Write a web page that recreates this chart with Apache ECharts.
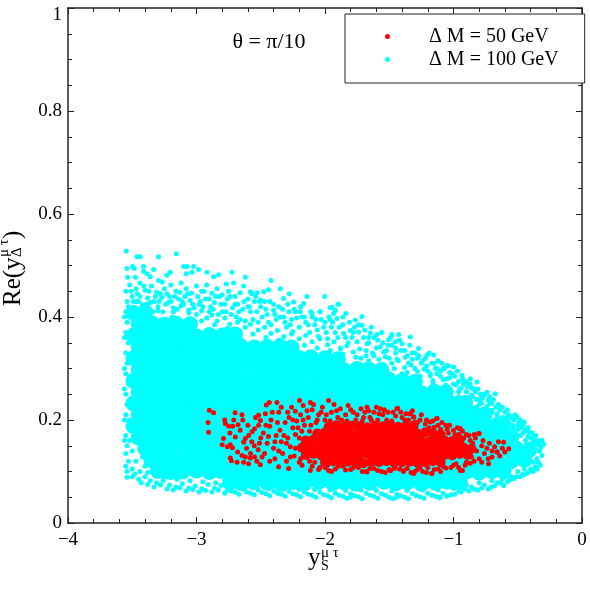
<!DOCTYPE html>
<html>
<head>
<meta charset="utf-8">
<script src="https://cdn.jsdelivr.net/npm/echarts@6/dist/echarts.min.js"></script>
<style>
html, body { margin: 0; padding: 0; background: #fff; }
#chart { width: 590px; height: 590px; }
</style>
</head>
<body>
<div id="chart"></div>
<script>
// names of the two point sets
var nameRed = 'Δ M = 50 GeV';
var nameCyan = 'Δ M = 100 GeV';

// Delta M = 100 GeV, solid middle of the cloud
var cyanCore = [
  [-2.74,0.079],[-2.65,0.077],[-2.56,0.08],[-2.45,0.078],[-2.34,0.076],[-2.25,0.079],[-2.16,0.077],[-2.05,0.08],[-1.94,0.077],[-1.85,0.079],[-1.76,0.076],[-1.65,0.078],[-1.54,0.08],[-1.45,0.077],[-1.36,0.079],[-1.25,0.076],[-1.14,0.078],[-1.05,0.08],[-0.95,0.079],
  [-3.3,0.101],[-3.2,0.099],[-3.11,0.1],[-3.0,0.102],[-2.9,0.099],[-2.81,0.101],[-2.7,0.1],[-2.6,0.098],[-2.5,0.101],[-2.41,0.1],[-2.3,0.099],[-2.2,0.102],[-2.1,0.1],[-2.01,0.098],[-1.9,0.101],[-1.8,0.1],[-1.7,0.099],[-1.61,0.102],[-1.5,0.1],[-1.4,0.098],[-1.3,0.101],[-1.2,0.1],[-1.11,0.099],[-1.0,0.101],[-0.9,0.1],[-0.8,0.098],[-0.7,0.101],[-0.61,0.1],
  [-3.35,0.122],[-3.25,0.124],[-3.15,0.121],[-3.06,0.123],[-2.95,0.122],[-2.85,0.12],[-2.75,0.123],[-2.66,0.122],[-2.55,0.124],[-2.45,0.121],[-2.35,0.122],[-2.26,0.123],[-2.15,0.121],[-2.05,0.122],[-1.95,0.124],[-1.85,0.122],[-1.76,0.12],[-1.65,0.123],[-1.55,0.122],[-1.45,0.121],[-1.35,0.124],[-1.25,0.122],[-1.16,0.12],[-1.05,0.123],[-0.95,0.122],[-0.85,0.121],[-0.75,0.124],[-0.66,0.122],[-0.55,0.12],[-0.45,0.123],
  [-3.4,0.145],[-3.3,0.143],[-3.21,0.144],[-3.1,0.146],[-3.0,0.143],[-2.9,0.144],[-2.8,0.142],[-2.71,0.145],[-2.6,0.144],[-2.5,0.143],[-2.4,0.146],[-2.3,0.144],[-2.21,0.142],[-2.1,0.145],[-2.0,0.144],[-1.9,0.143],[-1.8,0.145],[-1.71,0.144],[-1.6,0.142],[-1.5,0.145],[-1.4,0.144],[-1.3,0.143],[-1.2,0.146],[-1.11,0.144],[-1.0,0.142],[-0.9,0.145],[-0.8,0.144],[-0.7,0.143],[-0.6,0.145],[-0.51,0.144],[-0.41,0.142],
  [-3.45,0.166],[-3.35,0.168],[-3.25,0.165],[-3.16,0.167],[-3.05,0.166],[-2.95,0.164],[-2.85,0.167],[-2.76,0.166],[-2.65,0.168],[-2.55,0.165],[-2.45,0.166],[-2.36,0.167],[-2.25,0.165],[-2.15,0.166],[-2.05,0.168],[-1.95,0.166],[-1.86,0.164],[-1.75,0.167],[-1.65,0.166],[-1.55,0.165],[-1.45,0.168],[-1.35,0.166],[-1.26,0.164],[-1.15,0.167],[-1.05,0.166],[-0.95,0.165],[-0.85,0.168],[-0.76,0.166],[-0.65,0.164],[-0.55,0.167],
  [-3.49,0.188],[-3.4,0.19],[-3.3,0.187],[-3.21,0.189],[-3.1,0.188],[-3.0,0.186],[-2.9,0.189],[-2.81,0.188],[-2.7,0.19],[-2.6,0.187],[-2.5,0.188],[-2.41,0.189],[-2.3,0.187],[-2.2,0.188],[-2.1,0.19],[-2.0,0.188],[-1.91,0.186],[-1.8,0.189],[-1.7,0.188],[-1.6,0.187],[-1.5,0.19],[-1.4,0.188],[-1.31,0.186],[-1.2,0.189],[-1.1,0.188],[-1.0,0.187],[-0.9,0.19],[-0.81,0.188],[-0.7,0.186],[-0.62,0.189],
  [-3.45,0.21],[-3.35,0.212],[-3.26,0.209],[-3.15,0.211],[-3.05,0.21],[-2.95,0.208],[-2.85,0.211],[-2.75,0.21],[-2.66,0.212],[-2.55,0.209],[-2.45,0.21],[-2.35,0.211],[-2.25,0.209],[-2.16,0.21],[-2.05,0.212],[-1.95,0.21],[-1.85,0.208],[-1.75,0.211],[-1.66,0.21],[-1.55,0.209],[-1.45,0.212],[-1.35,0.21],[-1.25,0.208],[-1.15,0.211],[-1.06,0.21],[-0.95,0.209],[-0.85,0.212],[-0.76,0.21],
  [-3.49,0.232],[-3.4,0.234],[-3.3,0.231],[-3.2,0.233],[-3.11,0.232],[-3.0,0.23],[-2.9,0.233],[-2.8,0.232],[-2.7,0.234],[-2.61,0.231],[-2.5,0.232],[-2.4,0.233],[-2.3,0.231],[-2.2,0.232],[-2.11,0.234],[-2.0,0.232],[-1.9,0.23],[-1.8,0.233],[-1.7,0.232],[-1.61,0.231],[-1.5,0.234],[-1.4,0.232],[-1.3,0.23],[-1.2,0.233],[-1.1,0.232],[-1.0,0.231],[-0.91,0.233],
  [-3.45,0.254],[-3.35,0.256],[-3.25,0.253],[-3.16,0.255],[-3.05,0.254],[-2.95,0.252],[-2.85,0.255],[-2.75,0.254],[-2.66,0.256],[-2.55,0.253],[-2.45,0.254],[-2.35,0.255],[-2.25,0.253],[-2.16,0.254],[-2.05,0.256],[-1.95,0.254],[-1.85,0.252],[-1.75,0.255],[-1.66,0.254],[-1.55,0.253],[-1.45,0.256],[-1.35,0.254],[-1.25,0.252],[-1.15,0.255],[-1.06,0.254],
  [-3.49,0.276],[-3.4,0.278],[-3.3,0.275],[-3.2,0.277],[-3.11,0.276],[-3.0,0.274],[-2.9,0.277],[-2.8,0.276],[-2.7,0.278],[-2.61,0.275],[-2.5,0.276],[-2.4,0.277],[-2.3,0.275],[-2.2,0.276],[-2.11,0.278],[-2.0,0.276],[-1.9,0.274],[-1.8,0.277],[-1.7,0.276],[-1.61,0.275],[-1.5,0.278],[-1.4,0.276],[-1.3,0.274],
  [-3.45,0.298],[-3.35,0.3],[-3.25,0.297],[-3.16,0.299],[-3.05,0.298],[-2.95,0.296],[-2.85,0.299],[-2.75,0.298],[-2.66,0.3],[-2.55,0.297],[-2.45,0.298],[-2.35,0.299],[-2.25,0.297],[-2.16,0.298],[-2.05,0.3],[-1.95,0.298],[-1.85,0.296],[-1.75,0.299],[-1.66,0.298],[-1.56,0.297],
  [-3.49,0.32],[-3.4,0.322],[-3.3,0.319],[-3.2,0.321],[-3.11,0.32],[-3.0,0.318],[-2.9,0.321],[-2.8,0.32],[-2.7,0.322],[-2.61,0.319],[-2.5,0.32],[-2.4,0.321],[-2.3,0.319],[-2.2,0.32],[-2.11,0.322],[-2.0,0.32],[-1.9,0.318],
  [-3.45,0.342],[-3.35,0.344],[-3.25,0.341],[-3.16,0.343],[-3.05,0.342],[-2.95,0.34],[-2.85,0.343],[-2.75,0.342],[-2.66,0.344],[-2.55,0.341],[-2.45,0.342],[-2.35,0.343],[-2.26,0.341],
  [-3.49,0.364],[-3.4,0.366],[-3.3,0.363],[-3.2,0.365],[-3.11,0.364],[-3.0,0.362],[-2.9,0.365],[-2.8,0.364],[-2.7,0.366],
  [-3.45,0.386],[-3.35,0.388],[-3.25,0.385],[-3.16,0.387],[-3.05,0.386],
  [-3.49,0.408],[-3.4,0.41]
];

// Delta M = 100 GeV, scattered points round the edges of the cloud
var cyanEdge = [
  [-3.546,0.528],[-3.463,0.517],[-3.437,0.517],[-3.295,0.517],[-3.157,0.523],
  [-3.541,0.494],[-3.497,0.498],[-3.484,0.494],[-3.412,0.498],[-3.412,0.489],[-3.334,0.492],
  [-3.536,0.477],[-3.476,0.477],[-3.385,0.484],[-3.36,0.478],[-3.295,0.471],[-3.268,0.468],
  [-3.23,0.481],[-3.204,0.487],[-3.1,0.498],[-3.074,0.498],[-3.023,0.498],[-2.984,0.492],
  [-3.035,0.487],[-3.079,0.484],[-2.918,0.487],[-2.867,0.478],[-2.828,0.482],[-2.724,0.487],
  [-2.62,0.477],[-2.711,0.466],[-2.633,0.46],[-2.768,0.464],[-2.42,0.471],[-2.348,0.455],
  [-2.278,0.445],[-2.14,0.44],[-2.003,0.44],[-1.899,0.425],[-2.581,0.449],[-2.529,0.447],
  [-2.478,0.449],[-2.439,0.453],[-2.322,0.436],[-2.244,0.429],[-2.166,0.426],[-2.101,0.407],
  [-2.037,0.41],[-1.959,0.418],[-1.933,0.407],[-2.503,0.433],[-2.4,0.413],[-2.192,0.41],
  [-3.52,0.462],[-3.47,0.455],[-3.44,0.466],[-3.4,0.452],[-3.35,0.46],[-3.31,0.448],[-3.25,0.455],[-3.2,0.462],[-3.16,0.45],[-3.12,0.466],
  [-3.08,0.455],[-3.04,0.446],[-3.0,0.46],[-2.96,0.45],[-2.92,0.462],[-2.88,0.446],[-2.84,0.455],[-2.8,0.443],[-2.75,0.45],[-2.7,0.44],
  [-2.66,0.447],[-2.6,0.435],[-2.55,0.43],[-2.5,0.42],[-3.5,0.44],[-3.45,0.43],[-3.38,0.437],[-3.33,0.43],[-3.27,0.438],[-3.22,0.428],
  [-3.14,0.435],[-3.1,0.425],[-3.05,0.432],[-2.98,0.425],[-2.93,0.435],[-2.86,0.428],[-2.78,0.425],[-2.72,0.418],[-2.64,0.415],[-2.58,0.41],
  [-2.45,0.405],[-2.35,0.4],[-2.28,0.41],[-2.22,0.398],[-2.15,0.39],[-2.08,0.385],[-2.0,0.39],[-1.95,0.38],[-3.53,0.42],[-3.42,0.415],
  [-3.3,0.412],[-3.18,0.41],[-3.06,0.408],[-2.9,0.41],[-2.83,0.405],[-2.69,0.4],[-2.62,0.392],[-2.52,0.39],[-2.42,0.385],[-2.3,0.38],
  [-2.25,0.372],[-2.12,0.37],[-2.05,0.362],[-1.98,0.358],
  [-3.52,0.4],[-3.48,0.418],[-3.46,0.445],[-3.43,0.405],[-3.39,0.425],[-3.37,0.45],[-3.34,0.41],[-3.28,0.445],[-3.26,0.41],[-3.21,0.44],
  [-3.19,0.4],[-3.15,0.415],[-3.13,0.448],[-3.09,0.44],[-3.02,0.418],[-2.99,0.44],[-2.95,0.42],[-2.9,0.435],[-2.87,0.415],[-2.82,0.44],
  [-2.8,0.41],[-2.76,0.435],[-2.73,0.405],[-2.68,0.425],[-2.66,0.395],[-2.6,0.42],[-2.56,0.395],[-2.54,0.44],[-2.49,0.4],[-2.47,0.43],
  [-2.44,0.39],[-2.4,0.425],[-2.38,0.395],[-2.33,0.415],[-2.31,0.39],[-2.27,0.385],[-2.24,0.415],[-2.2,0.38],[-2.18,0.4],[-2.13,0.385],
  [-2.1,0.4],[-2.06,0.375],[-2.03,0.395],[-1.99,0.37],[-1.96,0.395],[-1.92,0.37],[-1.86,0.385],[-1.84,0.36],[-1.79,0.36],[-1.77,0.38],
  [-1.7,0.36],[-1.66,0.35],[-1.62,0.36],[-1.6,0.34],[-1.55,0.35],[-1.52,0.335],[-1.48,0.345],[-1.44,0.318],[-1.41,0.335],[-1.36,0.325],
  [-1.32,0.318],[-1.28,0.32],[-1.24,0.315],[-1.21,0.305],[-1.17,0.31],[-1.14,0.3],[-1.1,0.295],[-1.07,0.3],[-1.03,0.292],[-0.99,0.285],
  [-0.96,0.275],[-0.92,0.27],[-0.89,0.265],[-0.86,0.262],[-0.83,0.255],[-0.79,0.25],[-0.77,0.245],[-0.73,0.238],[-0.7,0.232],[-0.67,0.225],
  [-0.64,0.22],[-0.6,0.215],[-0.57,0.21],[-0.53,0.2],[-0.49,0.195],[-0.46,0.19],[-0.44,0.18],[-0.41,0.175],[-0.37,0.168],[-0.33,0.16],
  [-3.51,0.45],[-3.49,0.43],[-3.44,0.44],[-3.41,0.46],[-3.38,0.42],[-3.32,0.44],[-3.29,0.43],[-3.23,0.445],[-3.2,0.43],[-3.17,0.44],
  [-3.11,0.43],[-3.07,0.445],[-3.03,0.425],[-2.97,0.43],[-2.94,0.45],[-2.89,0.42],[-2.85,0.44],[-2.81,0.425],[-2.77,0.41],[-2.74,0.44],
  [-2.7,0.425],[-2.67,0.41],[-2.63,0.43],[-2.59,0.42],[-2.57,0.445],[-2.53,0.41],[-2.51,0.43],[-2.46,0.415],[-2.43,0.43],[-2.39,0.405],
  [-2.36,0.42],[-2.32,0.4],[-2.29,0.425],[-2.26,0.395],[-2.23,0.41],[-2.19,0.42],[-2.16,0.4],[-2.11,0.41],[-2.07,0.395],[-2.04,0.41],
  [-2.01,0.38],[-1.97,0.4],[-1.94,0.39],[-1.89,0.38],[-1.86,0.4],[-1.81,0.39],[-1.78,0.37],[-1.74,0.385],[-1.69,0.375],[-1.66,0.36],
  [-1.64,0.38],[-1.59,0.355],[-1.56,0.37],[-1.51,0.345],[-1.49,0.36],[-1.45,0.34],[-1.42,0.355],[-1.38,0.335],[-1.34,0.345],[-1.3,0.33],
  [-1.27,0.325],[-1.22,0.32],[-1.19,0.33],[-1.15,0.31],[-1.12,0.315],[-1.08,0.3],[-1.04,0.305],[-1.01,0.29],[-0.97,0.295],[-0.93,0.28],
  [-0.9,0.275],[-0.87,0.27],[-0.84,0.26],[-0.81,0.26],[-0.76,0.25],[-0.72,0.245],[-0.69,0.24],[-0.65,0.23],[-0.62,0.225],[-0.58,0.22],
  [-0.55,0.205],[-0.52,0.21],[-0.48,0.2],[-0.45,0.195],[-0.42,0.185],[-0.39,0.175],[-0.36,0.17],[-0.31,0.16],
  [-1.894,0.425],[-1.92,0.413],[-1.946,0.419],[-1.837,0.407],[-1.907,0.397],[-1.764,0.394],[-1.712,0.401],[-1.712,0.384],[-1.803,0.374],[-1.738,0.371],
  [-1.647,0.369],[-1.595,0.366],[-1.479,0.366],[-1.427,0.366],[-1.505,0.356],[-1.453,0.352],[-1.4,0.348],[-1.336,0.361],[-1.272,0.339],[-1.323,0.33],
  [-1.206,0.326],[-1.155,0.326],[-1.375,0.322],[-1.09,0.31],[-1.051,0.306],[-0.999,0.303],[-1.128,0.3],[-1.181,0.29],[-0.934,0.287],[-0.869,0.28],
  [-0.817,0.274],[-0.921,0.271],[-0.739,0.254],[-0.675,0.251],[-0.778,0.242],[-0.623,0.225],[-0.714,0.232],[-0.506,0.206],[-0.584,0.206],[-1.57,0.342],
  [-1.673,0.348],[-1.544,0.332],[-1.855,0.368],
  [-1.9,0.36],[-1.82,0.35],[-1.75,0.352],[-1.68,0.335],[-1.62,0.325],[-1.5,0.32],[-1.45,0.33],[-1.35,0.31],[-1.3,0.3],[-1.25,0.31],
  [-1.2,0.295],[-1.1,0.285],[-1.05,0.28],[-1.0,0.27],[-0.95,0.26],[-0.9,0.255],[-0.85,0.245],[-0.8,0.24],[-0.74,0.222],[-0.7,0.215],
  [-0.66,0.21],[-0.62,0.2],[-0.57,0.195],[-0.54,0.185],[-0.5,0.19],[-1.88,0.34],[-1.72,0.32],[-1.57,0.305],[-1.4,0.29],[-1.16,0.27],
  [-0.96,0.245],[-0.82,0.225],[-0.68,0.2],[-0.6,0.18],[-0.55,0.17],
  [-3.47,0.43],[-3.42,0.424],[-3.36,0.428],[-3.3,0.42],[-3.24,0.425],[-3.18,0.418],[-3.12,0.422],[-3.06,0.414],[-3.0,0.405],[-2.96,0.412],
  [-2.92,0.398],[-2.88,0.404],[-2.84,0.392],[-2.78,0.398],[-2.74,0.386],[-2.68,0.39],[-2.62,0.38],[-2.58,0.386],[-2.52,0.375],[-2.47,0.38],
  [-2.42,0.368],[-2.37,0.374],[-2.32,0.362],[-2.26,0.367],[-2.2,0.358],[-2.15,0.364],[-2.1,0.352],[-2.04,0.358],[-1.98,0.346],[-1.93,0.352],
  [-1.88,0.338],[-1.83,0.344],[-1.78,0.332],[-1.73,0.338],[-1.68,0.325],[-1.63,0.33],[-1.58,0.318],[-1.53,0.323],[-1.48,0.31],[-1.43,0.315],
  [-1.38,0.302],[-1.33,0.307],[-1.28,0.294],[-1.23,0.299],[-1.18,0.286],[-1.13,0.29],[-1.08,0.278],[-1.03,0.282],[-0.98,0.268],[-0.94,0.262],
  [-0.9,0.255],[-0.86,0.248],[-0.82,0.24],[-0.78,0.233],[-0.74,0.226],[-0.7,0.219],[-0.66,0.212],[-0.62,0.205],[-0.58,0.198],[-0.54,0.19],
  [-0.5,0.182],[-0.46,0.175],[-0.42,0.168],[-0.38,0.16],[-0.34,0.152],
  [-2.96,0.392],[-2.86,0.385],[-2.76,0.378],[-2.66,0.372],[-2.56,0.367],[-2.46,0.36],[-2.36,0.355],[-2.26,0.35],[-2.16,0.345],[-2.06,0.34],
  [-1.96,0.335],[-1.86,0.328],[-1.76,0.322],[-1.66,0.315],[-1.56,0.308],[-1.46,0.3],[-1.36,0.292],[-1.26,0.285],[-1.16,0.276],[-1.06,0.268],
  [-0.96,0.255],[-0.88,0.243],[-0.8,0.23],[-0.72,0.218],[-0.66,0.204],[-0.6,0.192],[-0.54,0.18],[-0.48,0.17],[-0.44,0.16],[-0.4,0.15],
  [-0.36,0.142],
  [-0.299,0.153],[-0.311,0.131],[-0.324,0.112],[-0.455,0.196],[-0.545,0.206],[-0.363,0.109],[-0.455,0.093],[-0.61,0.073],[-0.33,0.14],[-0.35,0.125],
  [-0.38,0.15],[-0.4,0.165],[-0.42,0.18],[-0.47,0.185],[-0.36,0.16],[-0.39,0.135],[-0.42,0.115],[-0.45,0.105],[-0.5,0.1],[-0.55,0.09],
  [-0.34,0.118],[-0.38,0.118],[-0.4,0.105],[-0.32,0.147],[-0.35,0.155],
  [-0.817,0.064],[-1.103,0.05],[-1.44,0.05],[-1.803,0.05],
  [-3.5,0.09],[-3.45,0.085],[-3.4,0.09],[-3.36,0.082],[-3.31,0.078],[-3.26,0.082],[-3.21,0.074],[-3.16,0.07],[-3.11,0.076],[-3.06,0.068],
  [-3.01,0.072],[-2.96,0.066],[-2.91,0.075],[-2.86,0.068],[-2.81,0.073],[-2.76,0.064],[-2.7,0.06],[-2.64,0.066],[-2.58,0.058],[-2.52,0.064],
  [-2.46,0.057],[-2.4,0.062],[-2.34,0.056],[-2.28,0.061],[-2.22,0.055],[-2.16,0.06],[-2.1,0.054],[-2.04,0.06],[-1.98,0.053],[-1.92,0.058],
  [-1.86,0.052],[-1.8,0.057],[-1.74,0.051],[-1.68,0.058],[-1.62,0.052],[-1.56,0.057],[-1.5,0.05],[-1.44,0.056],[-1.38,0.05],[-1.32,0.057],
  [-1.26,0.051],[-1.2,0.058],[-1.14,0.052],[-1.08,0.058],[-1.02,0.055],[-0.96,0.062],[-0.91,0.066],[-0.86,0.07],[-0.81,0.064],[-0.76,0.074],
  [-0.71,0.07],[-0.66,0.078],[-0.61,0.073],[-0.56,0.084],[-0.51,0.09],[-0.46,0.094],[-0.41,0.1],
  [-2.68,0.07],[-2.56,0.068],[-2.44,0.067],[-2.32,0.066],[-2.2,0.065],[-2.08,0.065],[-1.96,0.064],[-1.84,0.063],[-1.72,0.064],[-1.6,0.063],
  [-1.48,0.062],[-1.36,0.063],[-1.24,0.064],[-1.12,0.064],[-1.0,0.067],[-0.9,0.074],[-0.8,0.078],[-0.7,0.082],[-0.62,0.086],[-3.25,0.09],
  [-3.15,0.085],[-3.05,0.082],[-2.95,0.08],[-2.85,0.078],[-2.78,0.076],
  [-3.48,0.095],[-3.43,0.078],[-3.38,0.075],[-3.33,0.07],[-3.28,0.074],[-3.23,0.066],[-3.18,0.064],[-3.13,0.068],[-3.08,0.062],[-3.03,0.065],
  [-2.98,0.06],[-2.93,0.063],[-2.88,0.06],[-2.83,0.064],[-2.78,0.058],[-2.73,0.062],[-2.67,0.056],[-2.61,0.06],[-2.55,0.055],[-2.49,0.059],
  [-2.43,0.053],[-2.37,0.058],[-2.31,0.052],[-2.25,0.057],[-2.19,0.051],[-2.13,0.056],[-2.07,0.05],[-2.01,0.055],[-1.95,0.049],[-1.89,0.054],
  [-1.83,0.048],[-1.77,0.053],[-1.71,0.047],[-1.65,0.054],[-1.59,0.048],[-1.53,0.054],[-1.47,0.047],[-1.41,0.053],[-1.35,0.047],[-1.29,0.053],
  [-1.23,0.048],[-1.17,0.054],[-1.11,0.049],[-1.05,0.052],[-0.99,0.056],[-0.94,0.06],[-0.88,0.062],[-0.84,0.066],[-0.78,0.068],[-0.73,0.066],
  [-0.68,0.072],[-0.63,0.078],[-0.58,0.08],[-0.53,0.086],[-0.48,0.09],[-0.43,0.096],[-0.38,0.1],[-0.35,0.105],
  [-3.54,0.1],[-3.55,0.11],[-3.53,0.12],[-3.55,0.135],[-3.54,0.15],[-3.55,0.17],[-3.53,0.19],[-3.55,0.21],[-3.54,0.23],[-3.55,0.25],
  [-3.53,0.27],[-3.55,0.29],[-3.54,0.31],[-3.55,0.33],[-3.53,0.35],[-3.55,0.37],[-3.54,0.39],[-3.55,0.41],[-3.54,0.43],[-3.55,0.45],
  [-3.52,0.16],[-3.52,0.2],[-3.52,0.24],[-3.52,0.28],[-3.52,0.32],[-3.52,0.36],[-3.56,0.16],[-3.56,0.2],[-3.56,0.26],[-3.56,0.3],
  [-3.56,0.36],[-3.56,0.4],
  [-3.541,0.089],[-3.5,0.105],[-3.47,0.12],[-3.44,0.1],[-3.4,0.11],[-3.38,0.098],[-3.42,0.128],[-3.5,0.14]
];

// Delta M = 50 GeV, solid middle
var redCore = [
  [-2.0,0.118],[-1.94,0.12],[-1.88,0.117],[-1.82,0.119],[-1.76,0.118],[-1.7,0.116],[-1.64,0.119],[-1.58,0.118],[-1.52,0.12],[-1.46,0.117],[-1.4,0.118],[-1.34,0.119],[-1.28,0.117],[-1.22,0.118],[-1.16,0.12],[-1.1,0.118],
  [-2.15,0.132],[-2.09,0.134],[-2.03,0.131],[-1.97,0.133],[-1.91,0.132],[-1.85,0.13],[-1.79,0.133],[-1.73,0.132],[-1.67,0.134],[-1.61,0.131],[-1.55,0.132],[-1.49,0.133],[-1.43,0.131],[-1.37,0.132],[-1.31,0.134],[-1.25,0.132],[-1.19,0.13],[-1.13,0.133],[-1.07,0.132],[-1.01,0.131],[-0.95,0.134],[-0.89,0.132],
  [-2.18,0.146],[-2.12,0.148],[-2.06,0.145],[-2.0,0.147],[-1.94,0.146],[-1.88,0.144],[-1.82,0.147],[-1.76,0.146],[-1.7,0.148],[-1.64,0.145],[-1.58,0.146],[-1.52,0.147],[-1.46,0.145],[-1.4,0.146],[-1.34,0.148],[-1.28,0.146],[-1.22,0.144],[-1.16,0.147],[-1.1,0.146],[-1.04,0.145],[-0.98,0.148],[-0.92,0.146],[-0.86,0.144],
  [-2.15,0.16],[-2.09,0.162],[-2.03,0.159],[-1.97,0.161],[-1.91,0.16],[-1.85,0.158],[-1.79,0.161],[-1.73,0.16],[-1.67,0.162],[-1.61,0.159],[-1.55,0.16],[-1.49,0.161],[-1.43,0.159],[-1.37,0.16],[-1.31,0.162],[-1.25,0.16],[-1.19,0.158],[-1.13,0.161],[-1.07,0.16],[-1.01,0.159],[-0.95,0.162],
  [-2.06,0.174],[-2.0,0.176],[-1.94,0.173],[-1.88,0.175],[-1.82,0.174],[-1.76,0.172],[-1.7,0.175],[-1.64,0.174],[-1.58,0.176],[-1.52,0.173],[-1.46,0.174],[-1.4,0.175],[-1.34,0.173],[-1.28,0.174],[-1.22,0.176],[-1.16,0.174],[-1.1,0.172],
  [-1.97,0.188],[-1.91,0.19],[-1.85,0.187],[-1.79,0.189],[-1.73,0.188],[-1.67,0.186],[-1.61,0.189],[-1.55,0.188],[-1.49,0.19],[-1.43,0.187],[-1.37,0.188],[-1.31,0.189]
];

// Delta M = 50 GeV, scattered points
var redEdge = [
  [-2.9,0.219],[-2.867,0.214],[-2.91,0.195],[-2.906,0.176],[-2.776,0.193],[-2.75,0.188],[-2.719,0.188],[-2.677,0.191],[-2.7,0.214],[-2.646,0.21],
  [-2.79,0.164],[-2.8,0.152],[-2.76,0.148],[-2.737,0.152],[-2.72,0.146],[-2.698,0.167],[-2.737,0.126],[-2.729,0.121],[-2.685,0.118],[-2.633,0.118],
  [-2.594,0.115],[-2.646,0.131],[-2.62,0.128],[-2.581,0.126],[-2.548,0.128],[-2.633,0.157],[-2.62,0.164],[-2.594,0.17],[-2.568,0.177],[-2.548,0.183],
  [-2.517,0.19],[-2.503,0.199],[-2.517,0.209],[-2.464,0.212],[-2.457,0.229],[-2.433,0.234],[-2.374,0.234],[-2.198,0.238],[-2.114,0.234],[-1.972,0.238],
  [-2.231,0.217],[-2.503,0.113],[-2.361,0.109],[-2.283,0.106],[-2.179,0.112],[-2.114,0.102],[-1.972,0.102],
  [-2.55,0.15],[-2.52,0.142],[-2.5,0.165],[-2.48,0.175],[-2.47,0.135],[-2.45,0.155],[-2.43,0.188],[-2.42,0.2],[-2.4,0.145],[-2.39,0.125],
  [-2.38,0.17],[-2.36,0.215],[-2.35,0.18],[-2.34,0.158],[-2.33,0.135],[-2.31,0.195],[-2.3,0.12],[-2.29,0.165],[-2.28,0.205],[-2.27,0.148],
  [-2.26,0.225],[-2.25,0.185],[-2.24,0.13],[-2.23,0.172],[-2.22,0.198],[-2.2,0.118],[-2.19,0.21],[-2.18,0.178],[-2.17,0.228],[-2.16,0.19],
  [-2.15,0.135],[-2.13,0.205],[-2.12,0.178],[-2.1,0.22],[-2.08,0.118],[-2.07,0.195],[-2.05,0.21],[-2.04,0.108],[-2.02,0.225],[-2.0,0.2],
  [-1.98,0.112],[-1.95,0.215],[-1.93,0.23],[-1.92,0.105],[-1.9,0.205],[-1.88,0.222],[-1.86,0.11],[-1.84,0.21],[-1.82,0.228],[-1.8,0.104],
  [-1.78,0.215],[-1.76,0.2],[-1.74,0.108],[-1.72,0.222],[-1.7,0.205],[-1.68,0.1],[-1.66,0.218],[-1.64,0.2],[-1.62,0.106],[-1.6,0.225],
  [-1.58,0.212],[-1.56,0.1],[-1.54,0.22],[-1.52,0.2],[-1.5,0.104],[-1.49,0.102],[-1.47,0.215],[-1.44,0.222],[-1.42,0.105],[-1.4,0.205],
  [-1.39,0.1],[-1.37,0.212],[-1.34,0.212],[-1.33,0.098],[-1.31,0.206],[-1.3,0.196],[-1.28,0.104],[-1.26,0.2],[-1.24,0.1],[-1.22,0.192],
  [-1.2,0.108],[-1.18,0.196],[-1.17,0.096],[-1.15,0.186],[-1.13,0.203],[-1.12,0.105],[-1.1,0.182],[-1.08,0.11],[-1.06,0.19],[-1.04,0.175],
  [-1.02,0.108],[-1.0,0.18],[-0.98,0.115],[-0.96,0.172],[-0.95,0.183],[-0.93,0.102],[-0.92,0.165],[-0.9,0.118],[-0.88,0.17],[-0.86,0.128],
  [-0.85,0.155],[-0.83,0.165],[-0.82,0.14],[-0.8,0.174],[-0.8,0.125],[-0.78,0.15],[-0.77,0.16],[-0.76,0.135],[-0.74,0.145],[-0.73,0.125],
  [-0.72,0.155],[-0.7,0.14],[-0.7,0.128],[-0.68,0.148],[-0.66,0.138],[-0.65,0.158],[-0.64,0.13],[-0.62,0.145],[-0.61,0.157],[-0.6,0.138],
  [-0.57,0.144],[-0.727,0.115],[-0.662,0.138],[-0.947,0.183],[-0.805,0.174],[-1.673,0.225],[-1.57,0.222],[-1.538,0.219],[-1.435,0.223],[-1.336,0.212],
  [-1.31,0.206],[-1.128,0.203],[-1.167,0.096],[-1.31,0.096],[-0.947,0.102],[-1.673,0.099],[-1.49,0.102],[-1.388,0.102],
  [-2.78,0.2],[-2.74,0.175],[-2.71,0.2],[-2.68,0.138],[-2.66,0.18],[-2.64,0.2],[-2.61,0.145],[-2.6,0.19],[-2.58,0.135],[-2.57,0.158],
  [-2.54,0.205],[-2.53,0.12],[-2.51,0.155],[-2.49,0.128],[-2.46,0.19],[-2.44,0.168],[-2.43,0.12],[-2.41,0.215],[-2.39,0.158],[-2.37,0.195],
  [-2.36,0.14],[-2.34,0.225],[-2.32,0.17],[-2.3,0.155],[-2.29,0.215],[-2.27,0.128],[-2.25,0.2],[-2.23,0.145],[-2.21,0.185],[-2.2,0.165],
  [-2.19,0.125],[-2.17,0.2],[-2.14,0.218],[-2.12,0.12],[-2.11,0.19],[-2.09,0.23],
  [-2.06,0.2],[-2.03,0.215],[-1.99,0.21],[-1.96,0.198],[-1.91,0.218],[-1.87,0.2],[-1.83,0.198],[-1.8,0.22],[-1.75,0.21],[-1.71,0.198],
  [-1.69,0.215],[-1.65,0.205],[-1.62,0.215],[-1.59,0.2],[-1.55,0.21],[-1.51,0.215],[-1.48,0.198],[-1.45,0.208],[-1.41,0.215],[-1.38,0.2],
  [-1.35,0.2],[-1.32,0.218],[-1.28,0.195],[-1.25,0.21],[-1.21,0.2],[-1.19,0.185],[-1.16,0.198],[-1.12,0.19],[-1.09,0.195],[-1.05,0.182],
  [-1.03,0.19],[-0.99,0.172],[-0.97,0.185],[-0.93,0.178],[-0.9,0.172],[-0.87,0.16],[-0.84,0.172],
  [-2.1,0.11],[-2.05,0.104],[-2.0,0.108],[-1.95,0.1],[-1.9,0.11],[-1.84,0.103],[-1.78,0.108],[-1.71,0.1],[-1.65,0.106],[-1.59,0.102],
  [-1.53,0.098],[-1.46,0.106],[-1.36,0.106],[-1.3,0.1],[-1.26,0.108],[-1.21,0.098],[-1.15,0.104],[-1.1,0.1],[-1.06,0.107],[-1.0,0.112],
  [-0.96,0.108],[-0.91,0.112],[-0.87,0.116],[-0.84,0.12],[-0.78,0.118]
];

var FONT = 'Liberation Serif';
var INK = '#222';

function minus(v) {
  return v < 0 ? '\u2212' + (-v) : String(v);
}

function frameAxis(pos, extra) {
  var a = {
    type: 'value',
    position: pos,
    axisLine: { show: true, onZero: false, lineStyle: { color: INK, width: 1.5 } },
    axisTick: { inside: true, length: 6, lineStyle: { color: INK } },
    splitLine: { show: false },
    axisLabel: { show: false }
  };
  for (var k in extra) a[k] = extra[k];
  return a;
}

function txt(text, size, x, y, align) {
  return {
    type: 'text', x: x, y: y,
    style: {
      text: text, font: size + 'px "' + FONT + '"', fill: '#000',
      textAlign: align || 'left', align: align || 'left',
      textVerticalAlign: 'middle', verticalAlign: 'middle'
    }
  };
}

var xLab = { show: true, margin: 8, color: '#000', fontFamily: FONT, fontSize: 19, formatter: minus };
var yLab = {
  show: true, margin: 6, color: '#000', fontFamily: FONT, fontSize: 19,
  formatter: function (v) { return v === 1 ? '{t|1}' : String(v); },
  rich: { t: { fontFamily: FONT, fontSize: 19, color: '#000', padding: [14, 0, 0, 0] } }
};

var xMinor = { show: true, splitNumber: 5, length: 4, lineStyle: { color: INK } };
var yMinor = { show: true, splitNumber: 4, length: 4, lineStyle: { color: INK } };

function dots(name, data, size, color) {
  return {
    name: name, type: 'scatter', data: data, symbolSize: size,
    itemStyle: { color: color, opacity: 1 }, silent: true
  };
}

var option = {
  animation: false,
  grid: { left: 68, right: 8, top: 8, bottom: 67 },
  legend: {
    data: [nameRed, nameCyan],
    orient: 'vertical',
    left: 345, top: 14,
    padding: [11, 26, 12, 40],
    itemGap: 0, itemWidth: 5, itemHeight: 5,
    icon: 'circle',
    borderColor: INK, borderWidth: 1, backgroundColor: '#fff',
    selectedMode: false,
    textStyle: { fontFamily: FONT, fontSize: 20, color: '#000', lineHeight: 23, padding: [0, 0, 0, 34] }
  },
  xAxis: [
    frameAxis('bottom', { min: -4, max: 0, interval: 1, minorTick: xMinor, axisLabel: xLab }),
    frameAxis('top', { min: -4, max: 0, interval: 1, minorTick: xMinor })
  ],
  yAxis: [
    frameAxis('left', { min: 0, max: 1, interval: 0.2, minorTick: yMinor, axisLabel: yLab }),
    frameAxis('right', { min: 0, max: 1, interval: 0.2, minorTick: yMinor })
  ],
  series: [
    dots(nameCyan, cyanCore, 16, '#00ffff'),
    dots(nameCyan, cyanEdge, 5, '#00ffff'),
    dots(nameRed, redCore, 10, '#ff0000'),
    dots(nameRed, redEdge, 5, '#ff0000')
  ],
  graphic: [
    txt('θ = π/10', 22, 269, 42, 'center'),
    // x axis title  y_S^{mu tau}
    txt('y', 25, 308, 558),
    txt('μ τ', 15, 321, 553),
    txt('S', 14, 321, 566),
    // y axis title  Re(y_Delta^{mu tau}), rotated
    {
      type: 'group', x: 21, y: 306, rotation: Math.PI / 2,
      children: [
        txt('Re(y', 25, 0, -8),
        txt('μ τ', 15, 49, -17),
        txt('Δ', 15, 49, -4),
        txt(')', 25, 67, -8)
      ]
    }
  ]
};

echarts.init(document.getElementById('chart')).setOption(option);
</script>
</body>
</html>
